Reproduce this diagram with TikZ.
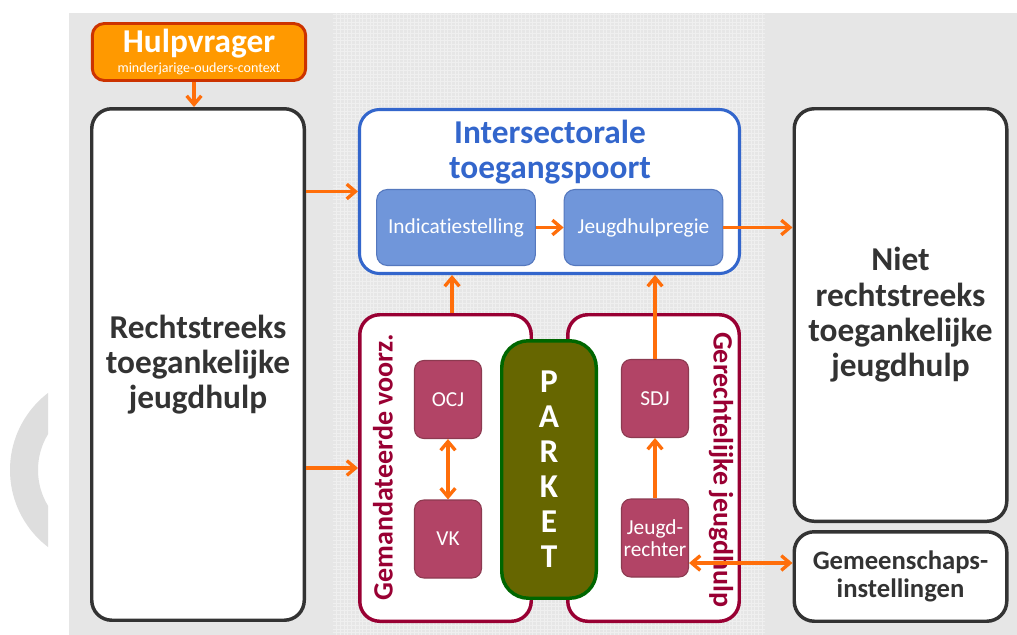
\documentclass[tikz,border=0pt]{standalone}
\usepackage{fontspec}
\setmainfont{Carlito}[Ligatures={NoCommon}]
\usepackage{xcolor}
\usepackage{tikz}
\usetikzlibrary{arrows.meta}
\usetikzlibrary{positioning}
\definecolor{arrowor}{RGB}{255,110,10}
\definecolor{darkline}{RGB}{51,51,51}
\definecolor{ispblue}{RGB}{51,102,204}
\definecolor{subblue}{RGB}{112,150,218}
\definecolor{subblueline}{RGB}{85,120,190}
\definecolor{crimson}{RGB}{153,0,51}
\definecolor{rosefill}{RGB}{178,68,102}
\definecolor{roseline}{RGB}{140,58,80}
\definecolor{parketfill}{RGB}{102,102,0}
\definecolor{parketline}{RGB}{0,102,0}
\definecolor{hulpfill}{RGB}{255,153,0}
\definecolor{hulpline}{RGB}{204,51,0}
\definecolor{bggray}{RGB}{230,230,230}
\definecolor{gridgray}{RGB}{239,239,239}
\definecolor{arcgray}{RGB}{222,222,222}
\tikzstyle{bigblock} = [rectangle, draw=darkline, fill=white, line width=2.6pt,
    rounded corners=15pt, text=darkline, align=center, inner sep=0pt,
    minimum width=159.4pt, font=\fontsize{25}{26.5}\selectfont\bfseries]
\tikzstyle{frame} = [rectangle, draw=crimson, fill=white, line width=2.6pt,
    rounded corners=15pt, minimum width=128.6pt, minimum height=229.9pt]
\tikzstyle{subblock} = [rectangle, draw=subblueline, fill=subblue, line width=0.8pt,
    rounded corners=8pt, text=white, minimum width=119pt, minimum height=57pt,
    font=\fontsize{16}{18}\selectfont]
\tikzstyle{smallblock} = [rectangle, draw=roseline, fill=rosefill, line width=0.8pt,
    rounded corners=7pt, text=white, align=center, minimum width=50.25pt,
    minimum height=58.5pt, inner sep=0pt, font=\fontsize{16}{16.5}\selectfont]
\tikzstyle{line} = [draw=arrowor, line width=2.5pt, -{Straight Barb[length=6.5pt,width=11pt]}]
\tikzstyle{twoway} = [line, {Straight Barb[length=6.5pt,width=11pt]}-{Straight Barb[length=6.5pt,width=11pt]}]

\begin{document}
\begin{tikzpicture}[x=0.75pt,y=-0.75pt]
    % Background
    \useasboundingbox (0,0) rectangle (1017,635);
    \fill[white] (0,0) rectangle (1017,635);
    \begin{scope}
        \clip (0,0) rectangle (48,635);
        \fill[arcgray, even odd rule] (107,470) circle[radius=97] (107,470) circle[radius=69];
    \end{scope}
    \fill[bggray] (69,13) rectangle (1017,635);
    \draw[gridgray, line width=0.6pt, step=2.775pt] (249.75pt,-9.75pt) grid (573.75pt,-476.25pt);
    % Place nodes
    \node[rectangle, draw=hulpline, fill=hulpfill, line width=2.2pt, rounded corners=9pt,
        minimum width=160pt, minimum height=42.75pt, inner sep=0pt, text=white, align=center]
        (hulp) at (199,52) {\fontsize{25}{25}\selectfont\bfseries Hulpvrager\\[3pt]
        \fontsize{10.5}{11}\selectfont minderjarige-ouders-context};
    \node[bigblock, minimum height=383.6pt] (left) at (198,364.5)
        {Rechtstreeks\\toegankelijke\\jeugdhulp};
    \node[bigblock, draw=ispblue, line width=2.3pt, minimum width=285pt, minimum height=123pt]
        (isp) at (549.5,191.5) {};
    \node[text=ispblue, align=center, font=\fontsize{25}{26.5}\selectfont\bfseries]
        (isptitle) at (550,152) {Intersectorale\\toegangspoort};
    \node[subblock] (ind) at (456,227.5) {Indicatiestelling};
    \node[subblock] (regie) at (643.5,227.5) {Jeugdhulpregie};
    \node[bigblock, minimum height=309.4pt] (niet) at (900.5,315)
        {Niet\\rechtstreeks\\toegankelijke\\jeugdhulp};
    \node[bigblock, minimum height=67.1pt, font=\fontsize{20}{21}\selectfont\bfseries]
        (gemeen) at (900.5,576.5) {Gemeenschaps-\\instellingen};
    \node[frame] (gem) at (445.5,468) {};
    \node[frame] (ger) at (653.5,468) {};
    \node[rotate=90, text=crimson, font=\fontsize{21}{21}\selectfont\bfseries]
        (gemlabel) at (383,467) {Gemandateerde voorz.};
    \node[rotate=-90, text=crimson, font=\fontsize{21}{21}\selectfont\bfseries]
        (gerlabel) at (721,470) {Gerechtelijke jeugdhulp};
    \node[rectangle, draw=parketline, fill=parketfill, line width=2.6pt, rounded corners=20pt,
        minimum width=70.9pt, minimum height=193.1pt, inner sep=0pt, text=white, align=center,
        font=\fontsize{25}{26.25}\selectfont\bfseries] (parket) at (549,469.5)
        {P\\A\\R\\K\\E\\T};
    \node[smallblock] (ocj) at (448,399.5) {OCJ};
    \node[smallblock] (vk) at (448,539) {VK};
    \node[smallblock] (sdj) at (655,398.5) {SDJ};
    \node[smallblock] (rechter) at (655,538) {Jeugd-\\rechter};
    % Draw edges
    \path[line] ([xshift=-3.75pt]hulp.south) -- ([xshift=-3.75pt]hulp.south |- left.north);
    \path[line] (left.east |- isp.west) -- (isp.west);
    \path[line] (left.east |- gem.west) -- (gem.west);
    \path[line] (ind.east) -- (regie.west);
    \path[line] (regie.east) -- (regie.east -| niet.west);
    \path[line] ([xshift=4.9pt]gem.north) -- ([xshift=4.9pt]gem.north |- isp.south);
    \path[line] (sdj.north) -- (sdj.north |- isp.south);
    \path[twoway] (ocj.south) -- (vk.north);
    \path[line] (rechter.north) -- (sdj.south);
    \path[twoway] ([yshift=-18.75pt]rechter.east) -- ([yshift=-18.75pt]rechter.east -| gemeen.west);
\end{tikzpicture}
\end{document}
